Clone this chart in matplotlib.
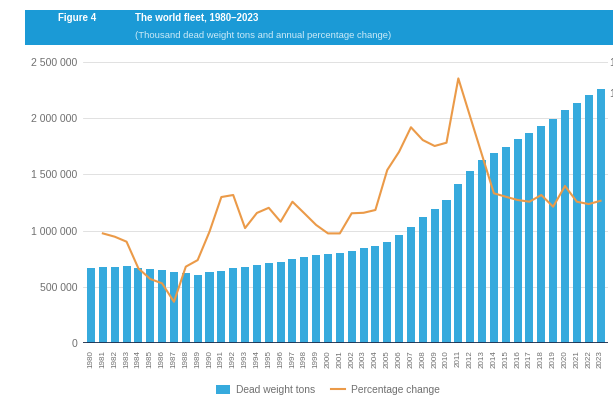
import matplotlib
matplotlib.use("Agg")
import matplotlib.pyplot as plt
from matplotlib.patches import Rectangle
from matplotlib.lines import Line2D
import numpy as np

plt.rcParams['font.family'] = ['Liberation Sans', 'DejaVu Sans']

years = [str(y) for y in range(1980, 2024)]
dwt = [670, 676, 676, 688, 670, 661, 652, 628, 619, 604, 628, 643, 670, 676, 691,
       712, 721, 745, 763, 781, 793, 799, 817, 841, 859, 900, 963, 1035, 1122, 1191,
       1275, 1412, 1532, 1627, 1688, 1748, 1811, 1870, 1930, 1990, 2076, 2139, 2202, 2262]
dwt = [v * 1000 for v in dwt]
pct_years = years[1:]
pct = [1.02, 0.81, 0.49, -1.22, -1.90, -2.18, -3.36, -1.11, -0.69, 1.13,
       3.35, 3.48, 1.36, 2.33, 2.66, 1.77, 3.05, 2.31, 1.56, 1.02,
       1.02, 2.31, 2.34, 2.52, 5.08, 6.25, 7.82, 7.00, 6.62, 6.83,
       10.95, 8.49, 6.04, 3.59, 3.37, 3.16, 3.05, 3.48, 2.73, 4.06,
       3.05, 2.90, 3.11]
y_ticks = [0, 500000, 1000000, 1500000, 2000000, 2500000]
y_labels = ["0", "500 000", "1 000 000", "1 500 000", "2 000 000", "2 500 000"]

BAR = "#36aadd"
LINE = "#eb9a48"
HEAD = "#1b9ad6"
GREY = "#707070"

W, H = 613, 403
fig = plt.figure(figsize=(W / 100, H / 100), dpi=100)

# header band
fig.patches.append(Rectangle((25 / W, 1 - 45 / H), (W - 25) / W, 35 / H,
                             transform=fig.transFigure, facecolor=HEAD,
                             edgecolor="none", zorder=0))
fig.text(58 / W, 1 - 18 / H, "Figure 4", color="white", fontsize=7.0,
         fontweight="bold", va="center", ha="left")
fig.text(135 / W, 1 - 18 / H, "The world fleet, 1980\u20132023", color="white",
         fontsize=7.0, fontweight="bold", va="center", ha="left")
fig.text(135 / W, 1 - 35 / H,
         "(Thousand dead weight tons and annual percentage change)",
         color="#cdebf8", fontsize=6.8, va="center", ha="left")

left, right, bottom, top = 83, 608, 343, 62
ax = fig.add_axes([left / W, 1 - bottom / H, (right - left) / W, (bottom - top) / H])
x = np.arange(len(years))
ax.bar(x, dwt, width=0.68, color=BAR, zorder=2)
ax.set_xlim(-0.675, 43.63)
ax.set_ylim(0, 2500000)
ax.set_yticks(y_ticks)
ax.set_yticklabels(y_labels)
ax.set_xticks(x)
ax.set_xticklabels(years, rotation=90)
ax.tick_params(axis="y", length=0, pad=4, labelsize=7.6, labelcolor=GREY)
ax.tick_params(axis="x", length=0, pad=5, labelsize=5.8, labelcolor=GREY)
ax.grid(axis="y", color="#dcdcdc", linewidth=0.6, zorder=0)
ax.set_axisbelow(True)
for s in ax.spines.values():
    s.set_visible(False)
ax.axhline(0, color="#1e2f4d", linewidth=1.3, zorder=3)

ax2 = ax.twinx()
ax2.plot(np.arange(1, len(years)), pct, color=LINE, linewidth=1.5, zorder=4)
ax2.set_ylim(-6, 12)
ax2.set_yticks([10, 12])
ax2.set_yticklabels(["10", "12"])
ax2.tick_params(axis="y", length=0, pad=1, labelsize=7.6, labelcolor=GREY)
for s in ax2.spines.values():
    s.set_visible(False)

handles = [Rectangle((0, 0), 1, 1, facecolor=BAR, edgecolor="none"),
           Line2D([0], [0], color=LINE, linewidth=1.5)]
fig.legend(handles, ["Dead weight tons", "Percentage change"], loc="center",
           bbox_to_anchor=(328 / W, 1 - 390 / H), ncol=2, frameon=False,
           fontsize=7.4, labelcolor=GREY, handlelength=1.3, handleheight=1.0,
           columnspacing=1.6, handletextpad=0.6)

fig.savefig("out.png", dpi=100)
